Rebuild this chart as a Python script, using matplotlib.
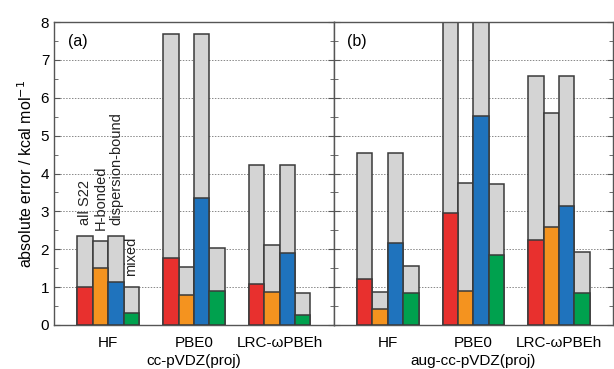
import matplotlib
matplotlib.use("Agg")
import matplotlib.pyplot as plt
import numpy as np
from matplotlib.ticker import MultipleLocator

plt.rcParams['font.family'] = ['Liberation Sans', 'DejaVu Sans']

methods = ["HF", "PBE0", "LRC-ωPBEh"]
subsets = ["all S22", "H-bonded", "dispersion-bound", "mixed"]
colors = ["#e8302e", "#f4931f", "#1f73bd", "#00a14e"]
gray = "#d4d4d4"
edge = "#3a3a3a"

# panel (a): cc-pVDZ(proj) -- max errors (gray) and mean errors (colored)
max_a = [[2.35, 2.22, 2.35, 1.00],
         [7.68, 1.52, 7.68, 2.04],
         [4.23, 2.12, 4.23, 0.84]]
mean_a = [[1.00, 1.50, 1.13, 0.32],
          [1.77, 0.80, 3.36, 0.90],
          [1.07, 0.87, 1.91, 0.27]]
# panel (b): aug-cc-pVDZ(proj)
max_b = [[4.53, 0.88, 4.53, 1.56],
         [9.00, 3.75, 9.00, 3.71],
         [6.57, 5.61, 6.57, 1.92]]
mean_b = [[1.22, 0.43, 2.17, 0.84],
          [2.95, 0.90, 5.53, 1.85],
          [2.24, 2.60, 3.13, 0.84]]

fig = plt.figure(figsize=(6.14, 3.69), dpi=100)
ax1 = fig.add_axes([54/614, 1-325/369, 279.5/614, 303/369])
ax2 = fig.add_axes([333.5/614, 1-325/369, 279.5/614, 303/369], sharey=ax1)

w = 0.18
offs = (np.arange(4) - 1.5) * w

def draw(ax, mx, mn, label, xlabel, annotate=False):
    for gi in range(len(methods)):
        for si in range(4):
            x = gi + offs[si]
            ax.bar(x, mx[gi][si], width=w, color=gray, edgecolor=edge, linewidth=1.1, zorder=2)
            ax.bar(x, mn[gi][si], width=w, color=colors[si], edgecolor=edge, linewidth=1.1, zorder=3)
            if annotate and gi == 0:
                ax.text(x, mx[gi][si] + 0.3, subsets[si], rotation=90, ha='center', va='bottom',
                        fontsize=10.5, color='#222222')
    ax.set_xlim(-0.634, 2.63)
    ax.set_ylim(0, 8)
    ax.set_xticks(range(3))
    ax.set_xticklabels(methods, fontsize=11)
    ax.tick_params(axis='x', length=0, pad=8)
    ax.yaxis.set_major_locator(MultipleLocator(1))
    ax.yaxis.set_minor_locator(MultipleLocator(0.5))
    ax.tick_params(axis='y', which='both', direction='in', left=True, right=True, color='#555555')
    ax.tick_params(axis='y', which='major', length=4)
    ax.tick_params(axis='y', which='minor', length=3)
    ax.grid(axis='y', which='major', linestyle=(0, (1.5, 1.5)), color='#888888', linewidth=0.7, zorder=0)
    ax.set_axisbelow(True)
    for s in ax.spines.values():
        s.set_color('#555555')
        s.set_linewidth(1.0)
    ax.text(0.05, 0.96, label, transform=ax.transAxes, ha='left', va='top', fontsize=11.5)
    ax.set_xlabel(xlabel, fontsize=11, labelpad=3)

draw(ax1, max_a, mean_a, "(a)", "cc-pVDZ(proj)", annotate=True)
draw(ax2, max_b, mean_b, "(b)", "aug-cc-pVDZ(proj)")
ax1.tick_params(axis='y', labelsize=11)
plt.setp(ax2.get_yticklabels(), visible=False)
ax1.set_ylabel("absolute error / kcal mol$^{-1}$", fontsize=11.5)

fig.savefig("out.png", dpi=100)
